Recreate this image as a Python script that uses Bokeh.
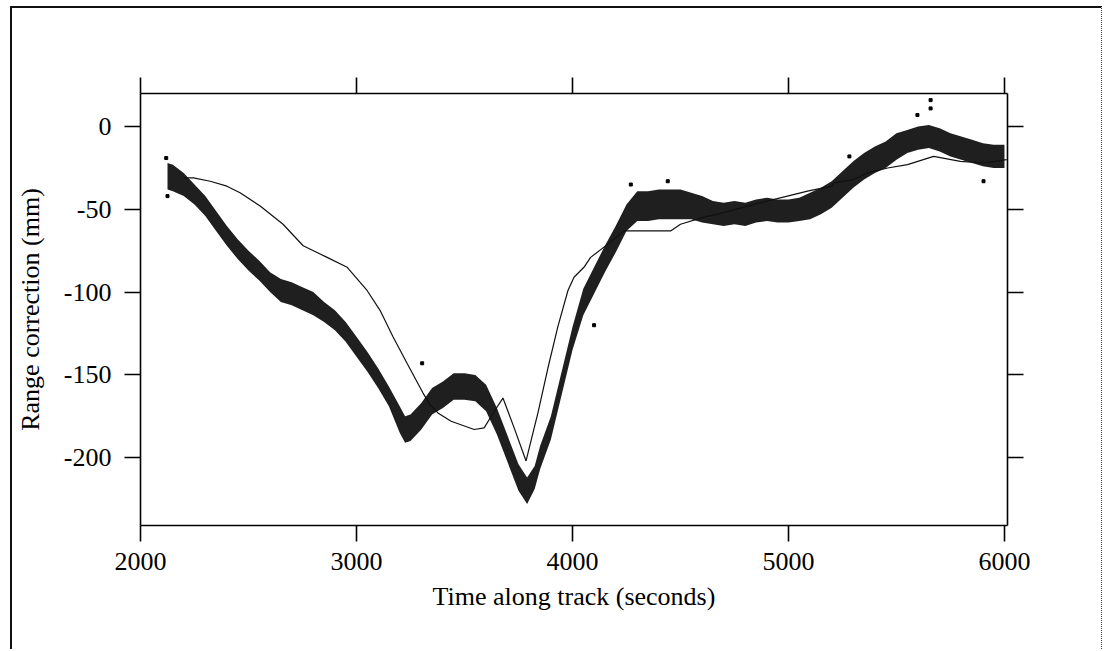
from bokeh.plotting import figure
from bokeh.models import Range1d, FixedTicker, LinearAxis
from bokeh.embed import file_html
from bokeh.resources import INLINE

# ---- data ----
# measured (scatter) band: time, centre value, half-width of the dense band
scatter_t = [2125, 2150, 2200, 2250, 2300, 2350, 2400, 2450, 2500, 2550, 2600, 2650, 2700, 2750,
             2800, 2850, 2900, 2950, 3000, 3050, 3100, 3150, 3200, 3225, 3250, 3300, 3350, 3400,
             3450, 3500, 3550, 3600, 3650, 3700, 3750, 3790, 3825, 3850, 3900, 3950, 4000, 4050,
             4100, 4150, 4200, 4250, 4300, 4350, 4400, 4450, 4500, 4550, 4600, 4650, 4700, 4750,
             4800, 4850, 4900, 4950, 5000, 5050, 5100, 5150, 5200, 5250, 5300, 5350, 5400, 5450,
             5500, 5550, 5600, 5650, 5700, 5750, 5800, 5850, 5900, 5950, 6000]
scatter_mid = [-30, -31, -35, -41, -48, -57, -66, -74, -81, -87, -94, -99, -101, -104,
               -107, -112, -117, -124, -133, -142, -152, -163, -177, -183, -182, -175, -166, -162,
               -157, -157, -158, -164, -178, -195, -212, -220, -212, -200, -182, -155, -128, -106,
               -93, -80, -68, -55, -48, -48, -47, -47, -47, -48, -50, -52, -53, -52,
               -53, -51, -50, -51, -51, -50, -48, -45, -41, -35, -29, -24, -20, -17,
               -12, -9, -7, -6, -8, -11, -13, -15, -17, -18, -18]
scatter_half = [8, 8, 7, 6, 6, 6, 6, 6, 6, 6, 6, 7, 7, 7,
                7, 6, 6, 6, 6, 6, 6, 6, 8, 8, 8, 8, 8, 8,
                8, 8, 8, 8, 8, 8, 8, 8, 7, 7, 7, 7, 7, 8,
                8, 8, 8, 8, 9, 9, 9, 9, 9, 8, 8, 7, 7, 7,
                7, 7, 7, 7, 7, 7, 8, 8, 8, 8, 8, 8, 8, 8,
                8, 7, 7, 7, 7, 7, 7, 7, 7, 7, 7]

# isolated measured points away from the band
outlier_t = [2119, 2125, 3304, 4100, 4270, 4441, 5282, 5597, 5658, 5658, 5903]
outlier_v = [-19, -42, -143, -120, -35, -33, -18, 7, 16, 11, -33]

# model curve (thin line)
model_t = [2200, 2245, 2323, 2400, 2461, 2554, 2660, 2753, 2864, 2957, 3049, 3109, 3169, 3234,
           3308, 3340, 3377, 3438, 3545, 3591, 3638, 3678, 3730, 3785, 3840, 3886, 3932, 3979,
           4007, 4053, 4084, 4164, 4238, 4454, 4500, 4600, 4700, 4840, 4995, 5088, 5200, 5210,
           5300, 5366, 5459, 5551, 5672, 5796, 5903, 6010]
model_v = [-31, -31, -33, -36, -40, -48, -59, -72, -79, -85, -99, -111, -127, -143,
           -161, -168, -173, -178, -183, -182, -172, -164, -182, -202, -173, -146, -121, -99,
           -91, -85, -79, -71, -63, -63, -59, -55, -52, -47, -42, -39, -36, -34,
           -32, -28, -25, -23, -18, -21, -22, -20]

x_ticks = [2000, 3000, 4000, 5000, 6000]
y_ticks = [-200, -150, -100, -50, 0]
y_tick_labels = ["-200", "-150", "-100", "-50", "0"]

FONT = "Liberation Serif"
FS = "26px"

p = figure(width=1092, height=643, output_backend="svg", toolbar_location=None,
           x_range=Range1d(2000, 6014), y_range=Range1d(-241, 20),
           x_axis_label="Time along track (seconds)", y_axis_label="Range correction (mm)",
           min_border_left=127, min_border_right=97, min_border_top=85, min_border_bottom=126)
p.styles = {"margin-left": "10px", "margin-top": "6px",
            "border-left": "2px solid #111", "border-top": "2px solid #111",
            "border-right": "1px dotted #444"}
p.outline_line_color = None
p.xgrid.visible = False
p.ygrid.visible = False
p.background_fill_color = "white"
p.border_fill_color = "white"

lo = [m - h for m, h in zip(scatter_mid, scatter_half)]
hi = [m + h for m, h in zip(scatter_mid, scatter_half)]
p.varea(x=scatter_t, y1=lo, y2=hi, fill_color="black", fill_alpha=0.88)
p.scatter(x=outlier_t, y=outlier_v, marker="square", size=3, color="black")
p.line(x=model_t, y=model_v, line_color="#111111", line_width=1.2)

bottom_ax = p.below[0]
left_ax = p.left[0]
top_ax = LinearAxis()
right_ax = LinearAxis()
p.add_layout(top_ax, "above")
p.add_layout(right_ax, "right")

for ax in [bottom_ax, top_ax]:
    ax.ticker = FixedTicker(ticks=x_ticks)
for ax in [left_ax, right_ax]:
    ax.ticker = FixedTicker(ticks=y_ticks)
left_ax.major_label_overrides = {v: s for v, s in zip(y_ticks, y_tick_labels)}

for ax in [bottom_ax, left_ax, top_ax, right_ax]:
    ax.axis_line_color = "black"
    ax.axis_line_width = 1.6
    ax.major_tick_line_color = "black"
    ax.major_tick_line_width = 1.6
    ax.major_tick_out = 16
    ax.major_tick_in = 0
    ax.minor_tick_line_color = None
    ax.major_label_text_font = FONT
    ax.major_label_text_font_size = FS
    ax.major_label_text_color = "black"
    ax.axis_label_text_font = FONT
    ax.axis_label_text_font_size = FS
    ax.axis_label_text_font_style = "normal"
    ax.axis_label_text_color = "black"

for ax in [top_ax, right_ax]:
    ax.major_label_text_color = None
    ax.major_label_text_font_size = "0px"

bottom_ax.major_label_standoff = 11
left_ax.major_label_standoff = 13
bottom_ax.axis_label_standoff = 9
left_ax.axis_label_standoff = 16

open("out.html", "w").write(file_html(p, INLINE))
